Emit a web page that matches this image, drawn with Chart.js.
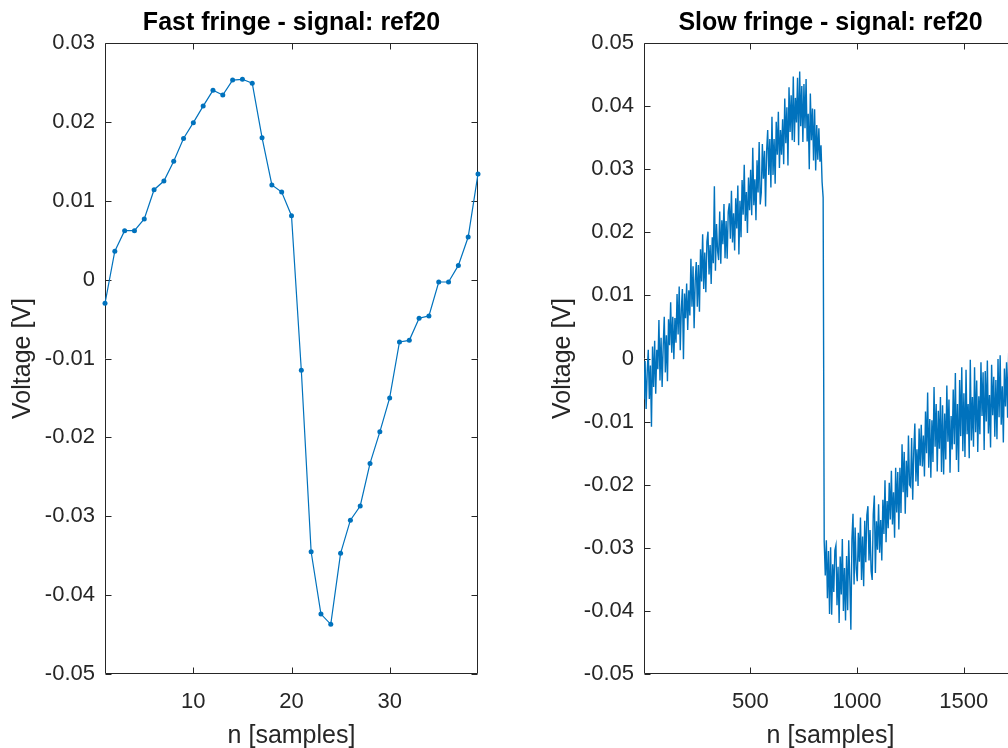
<!DOCTYPE html>
<html>
<head>
<meta charset="utf-8">
<title>ref20 fringes</title>
<script src="https://cdn.jsdelivr.net/npm/chart.js@4.4.1/dist/chart.umd.min.js"></script>
<style>
  html, body { margin: 0; padding: 0; background: #fff; overflow: hidden; }
  #wrap { position: relative; width: 1008px; height: 748px; overflow: hidden; }
  canvas { position: absolute; top: 0; }
  #fast { left: 0; }
  #slow { left: 540px; }
</style>
</head>
<body>
<div id="wrap">
  <canvas id="fast" width="504" height="748"></canvas>
  <canvas id="slow" width="504" height="748"></canvas>
</div>
<script>
// Fast fringe: one value per sample, n = 1..39 (volts)
const fastVolts = [
    -0.0030, 0.0036, 0.0062, 0.0062, 0.0077, 0.0114, 0.0125, 0.0150, 0.0179, 0.0199,
    0.0220, 0.0240, 0.0234, 0.0253, 0.0254, 0.0249, 0.0180, 0.0120, 0.0111, 0.0081,
    -0.0115, -0.0345, -0.0424, -0.0437, -0.0347, -0.0305, -0.0287, -0.0233, -0.0193, -0.0150,
    -0.0079, -0.0077, -0.0049, -0.0046, -0.0003, -0.0003, 0.0018, 0.0054, 0.0134
];
const fastXTicks = [10, 20, 30];
const fastYTicks = [-0.05, -0.04, -0.03, -0.02, -0.01, 0, 0.01, 0.02, 0.03];

// Slow fringe: every 5th sample starting at n = 1, in millivolts
const slowStart = 1;
const slowStep = 5;
const slowMv = [
    -6.5, -0.4, -8.0, -2.2, 1.4, -6.4, -1.1, -10.8, 1.9, -4.5,
    2.8, -5.6, 1.4, -1.7, 6.1, -3.5, 3.3, -4.5, 1.9, 6.6,
    -2.2, 3.7, -3.6, 6.2, 2.1, 8.9, 0.9, 6.6, -0.1, 6.4,
    2.5, 10.2, 3.8, 11.4, 1.3, 7.8, 11.0, -0.1, 10.3, 6.4,
    11.9, 4.5, 10.8, 6.8, 15.8, 8.2, 14.6, 4.8, 12.3, 15.3,
    8.2, 14.8, 7.4, 17.3, 12.2, 19.7, 11.0, 16.8, 10.5, 18.5,
    20.1, 13.3, 18.0, 11.8, 19.2, 15.1, 27.3, 13.9, 21.3, 17.1,
    15.6, 23.3, 15.0, 21.9, 18.1, 24.5, 15.9, 21.8, 15.8, 23.2,
    24.6, 19.0, 26.6, 18.4, 23.0, 17.1, 25.4, 20.6, 27.4, 16.5,
    25.0, 19.2, 28.3, 22.8, 30.7, 21.8, 26.4, 19.9, 28.7, 23.5,
    29.9, 22.7, 33.4, 24.3, 28.4, 21.9, 31.4, 26.3, 34.3, 24.4,
    26.3, 34.0, 28.5, 32.9, 24.1, 32.9, 36.2, 29.1, 34.8, 27.1,
    38.3, 29.1, 34.8, 27.7, 37.5, 32.3, 39.1, 30.2, 36.2, 32.3,
    37.9, 30.8, 41.2, 34.1, 39.8, 30.6, 43.0, 35.9, 41.7, 34.6,
    44.7, 34.3, 41.3, 37.4, 44.5, 33.8, 45.5, 36.8, 43.2, 34.3,
    43.5, 36.5, 44.3, 34.4, 38.8, 30.0, 42.0, 34.6, 39.6, 31.4,
    39.5, 29.8, 37.0, 31.5, 36.5, 31.2, 33.8, 28.0, 25.5, -29.0,
    -34.4, -28.8, -38.0, -30.5, -40.5, -29.9, -40.6, -32.6, -37.0, -30.4,
    -29.6, -39.1, -33.0, -41.9, -31.4, -37.4, -28.6, -40.0, -33.2, -41.5,
    -31.3, -39.9, -28.8, -35.2, -43.0, -28.7, -24.6, -35.8, -26.8, -33.4,
    -35.3, -27.6, -32.2, -25.2, -35.1, -28.2, -36.1, -25.7, -32.3, -24.8,
    -23.4, -32.0, -27.2, -33.7, -35.1, -24.7, -21.7, -34.0, -25.8, -30.3,
    -23.1, -30.8, -25.6, -32.0, -22.4, -27.8, -19.3, -29.1, -22.6, -26.9,
    -19.7, -25.5, -17.8, -26.3, -21.2, -28.4, -17.3, -24.4, -18.0, -27.1,
    -17.3, -24.5, -13.6, -21.2, -14.8, -24.6, -16.2, -22.0, -12.2, -20.0,
    -20.3, -12.6, -22.4, -14.7, -10.3, -19.5, -14.4, -20.2, -11.1, -17.0,
    -10.5, -17.1, -12.2, -18.7, -8.4, -15.0, -5.4, -17.3, -9.6, -18.9,
    -9.8, -16.4, -4.5, -14.0, -7.2, -17.9, -8.3, -14.3, -6.1, -18.0,
    -7.4, -18.4, -8.7, -16.0, -4.3, -13.2, -6.5, -18.1, -9.1, -14.4,
    -4.9, -13.6, -2.3, -16.1, -7.2, -18.0, -3.4, -12.3, -1.4, -14.7,
    -5.5, -15.6, -1.8, -12.0, -7.2, -15.8, -0.2, -13.0, -6.1, -14.0,
    -1.4, -11.7, -3.5, -14.8, -6.0, -12.0, -0.6, -9.1, -2.2, -14.5,
    -2.0, -10.0, -0.3, -11.9, -5.8, -14.1, -1.0, -9.0, -2.9, -12.4,
    -3.4, -12.8, -0.1, -9.3, 0.5, -10.5, -4.4, -13.3, -1.6, -7.6,
    -0.6, -9.4, 1.1, -10.0, -4.4, -11.9, -1.6, -8.4, 0.5, -7.5
];
const slowXTicks = [500, 1000, 1500];
const slowYTicks = [-0.05, -0.04, -0.03, -0.02, -0.01, 0, 0.01, 0.02, 0.03, 0.04, 0.05];

const lineBlue = '#0072BD';
const axisColor = '#262626';
const fontFamily = "'Liberation Sans', Arial, Helvetica, sans-serif";
const tickLen = 6;

// Box around the plot area with inward ticks on all four sides
const axesBox = {
    id: 'axesBox',
    beforeDatasetsDraw(chart) {
        const {ctx, chartArea: a, scales: {x, y}} = chart;
        const l = Math.round(a.left) + 0.5, r = Math.round(a.right) - 0.5;
        const t = Math.round(a.top) + 0.5, b = Math.round(a.bottom) - 0.5;
        ctx.save();
        ctx.strokeStyle = axisColor;
        ctx.lineWidth = 1;
        ctx.beginPath();
        ctx.rect(l, t, r - l, b - t);
        x.ticks.forEach(tk => {
            const px = Math.round(x.getPixelForValue(tk.value)) + 0.5;
            ctx.moveTo(px, b); ctx.lineTo(px, b - tickLen);
            ctx.moveTo(px, t); ctx.lineTo(px, t + tickLen);
        });
        y.ticks.forEach(tk => {
            const py = Math.round(y.getPixelForValue(tk.value)) + 0.5;
            ctx.moveTo(l, py); ctx.lineTo(l + tickLen, py);
            ctx.moveTo(r, py); ctx.lineTo(r - tickLen, py);
        });
        ctx.stroke();
        ctx.restore();
    }
};

function formatVolts(v) {
    if (Math.abs(v) < 1e-9) return '0';
    return v.toFixed(2);
}

function renderFringeChart(canvasId, opts) {
    const ctx = document.getElementById(canvasId).getContext('2d');

    new Chart(ctx, {
        type: 'line',
        data: {
            datasets: [{
                data: opts.points,
                borderColor: lineBlue,
                backgroundColor: lineBlue,
                borderWidth: opts.lineWidth,
                pointRadius: opts.pointRadius,
                pointHoverRadius: 0,
                pointBorderWidth: 0,
                tension: 0,
                fill: false,
                clip: opts.clip
            }]
        },
        options: {
            responsive: false,
            animation: false,
            events: [],
            layout: { padding: { left: 0, right: opts.rightPad, top: 0, bottom: 0 } },
            plugins: {
                legend: { display: false },
                tooltip: { enabled: false },
                title: {
                    display: true,
                    text: opts.title,
                    fullSize: false,
                    color: '#000',
                    font: { family: fontFamily, size: 25, weight: 'bold', lineHeight: 1.2 },
                    padding: { top: 8, bottom: 5 }
                }
            },
            scales: {
                x: {
                    type: 'linear',
                    min: opts.xMin,
                    max: opts.xMax,
                    grid: { display: false, drawTicks: false },
                    border: { display: false },
                    afterBuildTicks: s => { s.ticks = opts.xTicks.map(v => ({ value: v })); },
                    afterFit: s => { s.height = 74; },
                    ticks: {
                        autoSkip: false,
                        maxRotation: 0,
                        minRotation: 0,
                        padding: 15,
                        color: axisColor,
                        font: { family: fontFamily, size: 22 },
                        callback: v => String(v)
                    },
                    title: {
                        display: true,
                        text: 'n [samples]',
                        color: axisColor,
                        font: { family: fontFamily, size: 25, lineHeight: 1.2 },
                        padding: { top: 0, bottom: -3 }
                    }
                },
                y: {
                    type: 'linear',
                    min: opts.yMin,
                    max: opts.yMax,
                    grid: { display: false, drawTicks: false },
                    border: { display: false },
                    afterBuildTicks: s => { s.ticks = opts.yTicks.map(v => ({ value: v })); },
                    afterFit: s => { s.width = opts.yAxisWidth; },
                    ticks: {
                        autoSkip: false,
                        padding: 10,
                        color: axisColor,
                        font: { family: fontFamily, size: 22 },
                        callback: formatVolts
                    },
                    title: {
                        display: true,
                        text: 'Voltage [V]',
                        color: axisColor,
                        font: { family: fontFamily, size: 25, lineHeight: 1.2 },
                        padding: { top: 8, bottom: 0 }
                    }
                }
            }
        },
        plugins: [axesBox]
    });
}

renderFringeChart('fast', {
    title: 'Fast fringe - signal: ref20',
    points: fastVolts.map((v, i) => ({ x: i + 1, y: v })),
    lineWidth: 1.2,
    pointRadius: 2.5,
    clip: false,
    xMin: 1, xMax: fastVolts.length,
    yMin: -0.05, yMax: 0.03,
    xTicks: fastXTicks,
    yTicks: fastYTicks,
    yAxisWidth: 105,
    rightPad: 26
});

renderFringeChart('slow', {
    title: 'Slow fringe - signal: ref20',
    points: slowMv.map((mv, i) => ({ x: slowStart + i * slowStep, y: mv / 1000 })),
    lineWidth: 1.4,
    pointRadius: 0,
    clip: 0,
    xMin: 1, xMax: 1750,
    yMin: -0.05, yMax: 0.05,
    xTicks: slowXTicks,
    yTicks: slowYTicks,
    yAxisWidth: 104,
    rightPad: 27
});
</script>
</body>
</html>
